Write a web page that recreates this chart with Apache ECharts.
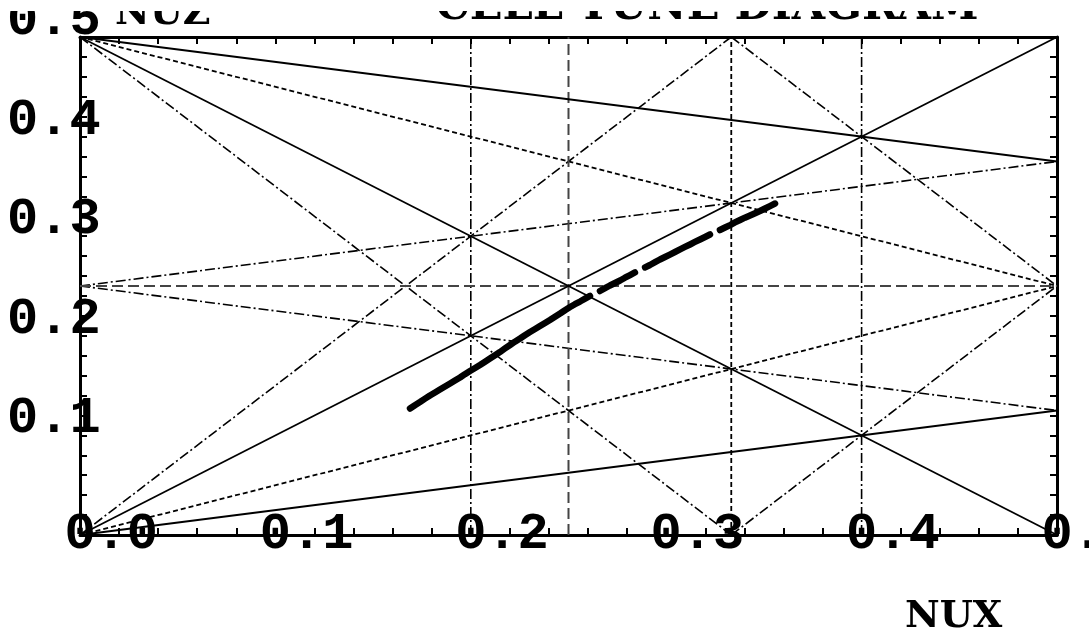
<!DOCTYPE html>
<html>
<head>
<meta charset="utf-8">
<title>CELL TUNE DIAGRAM</title>
<script src="https://cdn.jsdelivr.net/npm/echarts@6/dist/echarts.min.js"></script>
<style>
  html, body { margin: 0; padding: 0; background: #fff; }
  #chart { width: 1089px; height: 641px; }
</style>
</head>
<body>
<div id="chart"></div>
<script>
// Axis range and tick spacing (tune units)
const axisMin = 0;
const axisMax = 0.5;
const tickStep = 0.02;

// Resonance lines, each as a pair of end points [nux, nuz]
const solidLines = [
  [[0, 0.5], [0.5, 0.375]],   // nux + 4 nuz = 2
  [[0, 0.5], [0.5, 0]],       // nux + nuz = 0.5
  [[0, 0], [0.5, 0.5]],       // nux - nuz = 0
  [[0, 0], [0.5, 0.125]]      // nux - 4 nuz = 0
];
const dottedLines = [
  [[0, 0.5], [0.5, 0.25]],    // nux + 2 nuz = 1
  [[0, 0], [0.5, 0.25]],      // nux - 2 nuz = 0
  [[0.3333, 0], [0.3333, 0.5]] // 3 nux = 1
];
const dashedLines = [
  [[0.25, 0], [0.25, 0.5]],   // 4 nux = 1
  [[0, 0.25], [0.5, 0.25]]    // 4 nuz = 1
];
const dashDotLines = [
  [[0, 0.5], [0.3333, 0]],      // 3 nux + 2 nuz = 1
  [[0, 0], [0.3333, 0.5]],      // 3 nux - 2 nuz = 0
  [[0.3333, 0.5], [0.5, 0.25]], // 3 nux + 2 nuz = 2
  [[0.3333, 0], [0.5, 0.25]],   // 3 nux - 2 nuz = 1
  [[0, 0.25], [0.5, 0.375]],    // 4 nuz - nux = 1
  [[0, 0.25], [0.5, 0.125]],    // 4 nuz + nux = 1
  [[0.2, 0], [0.2, 0.5]],       // 5 nux = 1
  [[0.4, 0], [0.4, 0.5]]        // 5 nux = 2
];

// Tracked working point (nux, nuz); larger steps in nux mark gaps in the track
const traceNux = [
  0.1689, 0.1714, 0.1740, 0.1766, 0.1791, 0.1817, 0.1842, 0.1868, 0.1894, 0.1919,
  0.1945, 0.1970, 0.1996, 0.2022, 0.2047, 0.2073, 0.2098, 0.2124, 0.2149, 0.2175,
  0.2201, 0.2226, 0.2252, 0.2277, 0.2303, 0.2329, 0.2354, 0.2380, 0.2405, 0.2431,
  0.2457, 0.2482, 0.2508, 0.2533, 0.2559, 0.2585, 0.2610,
  0.2661, 0.2687, 0.2712, 0.2738, 0.2764, 0.2789, 0.2815, 0.2840,
  0.2892, 0.2917, 0.2943, 0.2968, 0.2994, 0.3019, 0.3045, 0.3071, 0.3096, 0.3122,
  0.3147, 0.3173, 0.3199, 0.3224,
  0.3275, 0.3301, 0.3327, 0.3352, 0.3378, 0.3403, 0.3429, 0.3455, 0.3480, 0.3506,
  0.3531, 0.3557
];
const traceNuz = [
  0.1270, 0.1303, 0.1335, 0.1369, 0.1401, 0.1431, 0.1461, 0.1491, 0.1521, 0.1551,
  0.1581, 0.1615, 0.1647, 0.1677, 0.1707, 0.1740, 0.1772, 0.1805, 0.1837, 0.1873,
  0.1908, 0.1941, 0.1973, 0.2006, 0.2038, 0.2068, 0.2098, 0.2129, 0.2159, 0.2192,
  0.2224, 0.2257, 0.2289, 0.2317, 0.2344, 0.2373, 0.2400,
  0.2450, 0.2478, 0.2505, 0.2530, 0.2555, 0.2583, 0.2610, 0.2636,
  0.2686, 0.2711, 0.2739, 0.2766, 0.2791, 0.2816, 0.2841, 0.2867, 0.2892, 0.2917,
  0.2942, 0.2967, 0.2992, 0.3017,
  0.3062, 0.3087, 0.3112, 0.3138, 0.3163, 0.3186, 0.3208, 0.3231, 0.3253, 0.3278,
  0.3303, 0.3328
];

const labelFont = 'Liberation Mono';
const textFont = 'DejaVu Serif';

function isTenth(v) {
  return Math.round(v * 50) % 5 === 0;
}

function segmentSeries(segments, lineStyle, z) {
  return segments.map(function (seg) {
    return {
      type: 'line',
      data: seg,
      symbol: 'none',
      silent: true,
      animation: false,
      z: z,
      lineStyle: lineStyle
    };
  });
}

// Split the track wherever the sampled points are not contiguous
function traceData() {
  const out = [];
  for (let i = 0; i < traceNux.length; i++) {
    if (i > 0 && traceNux[i] - traceNux[i - 1] > 0.004) out.push(['-', '-']);
    out.push([traceNux[i], traceNuz[i]]);
  }
  return out;
}

const boxAxis = {
  min: axisMin,
  max: axisMax,
  interval: tickStep,
  splitLine: { show: false },
  axisLine: { show: true, onZero: false, lineStyle: { color: '#000', width: 3 } },
  axisTick: { show: true, inside: true, length: 7, lineStyle: { color: '#000', width: 2 } }
};

const series = [].concat(
  segmentSeries(dashDotLines, { color: '#000', width: 1.6, type: [10, 3, 2, 3] }, 2),
  segmentSeries(dottedLines, { color: '#000', width: 1.8, type: [5, 3] }, 2),
  segmentSeries(dashedLines, { color: '#444', width: 2, type: [11, 5] }, 2),
  segmentSeries(solidLines, { color: '#000', width: 1.8, type: 'solid' }, 3),
  [{
    type: 'line',
    data: traceData(),
    symbol: 'none',
    connectNulls: false,
    silent: true,
    z: 5,
    lineStyle: { color: '#000', width: 6.5, cap: 'round', join: 'round' }
  }]
);

const chart = echarts.init(document.getElementById('chart'), null, { renderer: 'canvas' });
chart.setOption({
  animation: false,
  backgroundColor: '#fff',
  grid: { left: 80, right: 32, top: 37, bottom: 106, containLabel: false, outerBoundsMode: 'none' },
  xAxis: [
    Object.assign({}, boxAxis, {
      type: 'value',
      position: 'bottom',
      axisLabel: {
        show: true,
        margin: 0,
        align: 'center',
        verticalAlign: 'middle',
        color: '#000',
        fontFamily: labelFont,
        fontWeight: 'bold',
        fontSize: 52,
        showMaxLabel: true,
        showMinLabel: true,
        formatter: function (v) { return isTenth(v) ? '  ' + v.toFixed(1) : ''; }
      }
    }),
    Object.assign({}, boxAxis, {
      type: 'value',
      position: 'top',
      axisLabel: { show: false }
    })
  ],
  yAxis: [
    Object.assign({}, boxAxis, {
      type: 'value',
      position: 'left',
      axisLabel: {
        show: true,
        margin: -5,
        align: 'center',
        verticalAlign: 'bottom',
        lineHeight: 32,
        color: '#000',
        fontFamily: labelFont,
        fontWeight: 'bold',
        fontSize: 52,
        showMaxLabel: true,
        formatter: function (v) { return (isTenth(v) && v > 0.001) ? v.toFixed(1) + '  ' : ''; }
      }
    }),
    Object.assign({}, boxAxis, {
      type: 'value',
      position: 'right',
      axisLabel: { show: false }
    })
  ],
  graphic: [
    {
      type: 'text',
      x: 707, y: 8,
      z: 10,
      style: {
        text: 'CELL TUNE DIAGRAM',
        font: 'bold 43px "' + textFont + '"',
        fill: '#000',
        align: 'center',
        verticalAlign: 'middle'
      }
    },
    {
      type: 'text',
      x: 115, y: 14,
      z: 10,
      style: {
        text: 'NUZ',
        font: 'bold 38px "' + textFont + '"',
        fill: '#000',
        align: 'left',
        verticalAlign: 'middle'
      }
    },
    {
      type: 'text',
      x: 905, y: 617,
      z: 10,
      style: {
        text: 'NUX',
        font: 'bold 38px "' + textFont + '"',
        fill: '#000',
        align: 'left',
        verticalAlign: 'middle'
      }
    },
    {
      // blank strip along the top edge of the page
      type: 'rect',
      z: 20,
      silent: true,
      shape: { x: 0, y: 0, width: 1089, height: 11 },
      style: { fill: '#fff' }
    }
  ],
  series: series
});
</script>
</body>
</html>
